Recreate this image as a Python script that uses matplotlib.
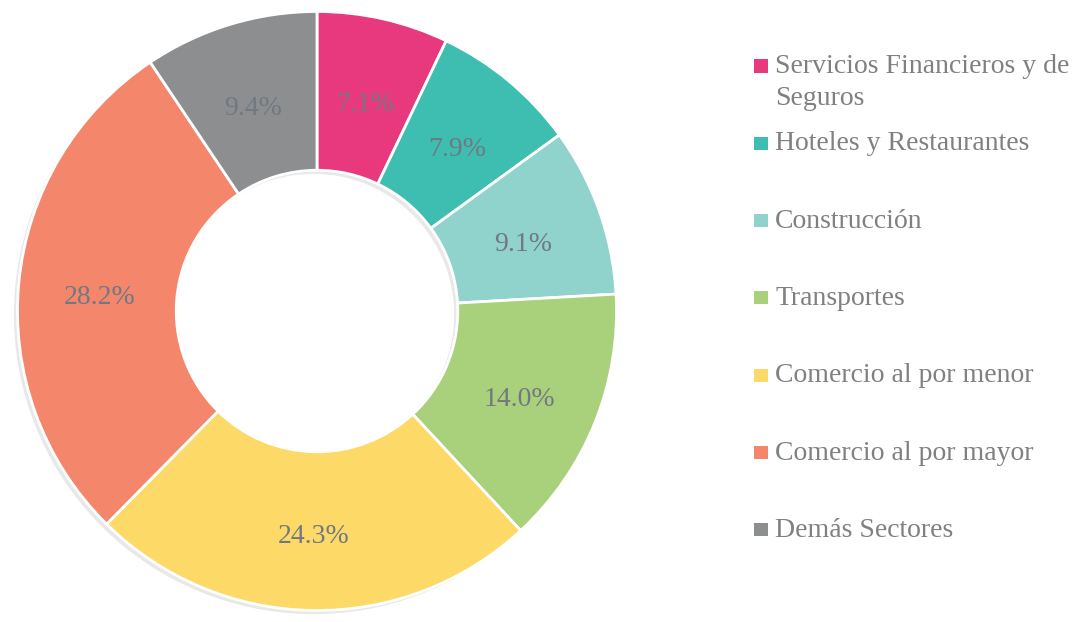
import numpy as np
import matplotlib.pyplot as plt

# datos
sectores = ['Servicios Financieros y de\nSeguros', 'Hoteles y Restaurantes', 'Construcción',
            'Transportes', 'Comercio al por menor', 'Comercio al por mayor', 'Demás Sectores']
participacion = [7.1, 7.9, 9.1, 14.0, 24.3, 28.2, 9.4]
colores = ['#E8387E', '#3EBDB1', '#8FD3CC', '#A9D17B', '#FDD967', '#F3866B', '#8D8E90']

plt.rcParams['font.family'] = ['Liberation Serif', 'DejaVu Serif']

W, H = 1083, 622
fig = plt.figure(figsize=(W/100, H/100), dpi=100)

# dona
cx, cy, R = 317, 311, 301
ax = fig.add_axes([(cx-R)/W, (H-cy-R)/H, 2*R/W, 2*R/H])
# sombra suave
ax.pie(participacion, colors=['#d9d9d9']*len(participacion), startangle=90, counterclock=False,
       center=(-0.012, -0.012), wedgeprops=dict(width=0.53, edgecolor='none', alpha=0.6))
wedges, texts, autotexts = ax.pie(participacion, colors=colores, startangle=90, counterclock=False,
                                  autopct='%.1f%%', pctdistance=0.73,
                                  wedgeprops=dict(width=0.53, edgecolor='white', linewidth=2),
                                  textprops=dict(fontsize=20, color='#727881'))
for t in autotexts:
    x, y = t.get_position()
    t.set_position((x, y - 0.022))
ax.set_xlim(-1.005, 1.005)
ax.set_ylim(-1.005, 1.005)

# leyenda a mano
axl = fig.add_axes([0, 0, 1, 1])
axl.set_xlim(0, W)
axl.set_ylim(H, 0)
axl.axis('off')
y0, paso = 64, 77.3
for i, (lab, col) in enumerate(zip(sectores, colores)):
    y = y0 + paso*i
    axl.scatter([761], [y+2], marker='s', s=90, color=col, edgecolors='none')
    for k, linea in enumerate(lab.split('\n')):
        axl.text(775, y + 9 + 32*k, linea, fontsize=20, color='#808080', va='baseline', ha='left')

fig.savefig('out.png', dpi=100)
